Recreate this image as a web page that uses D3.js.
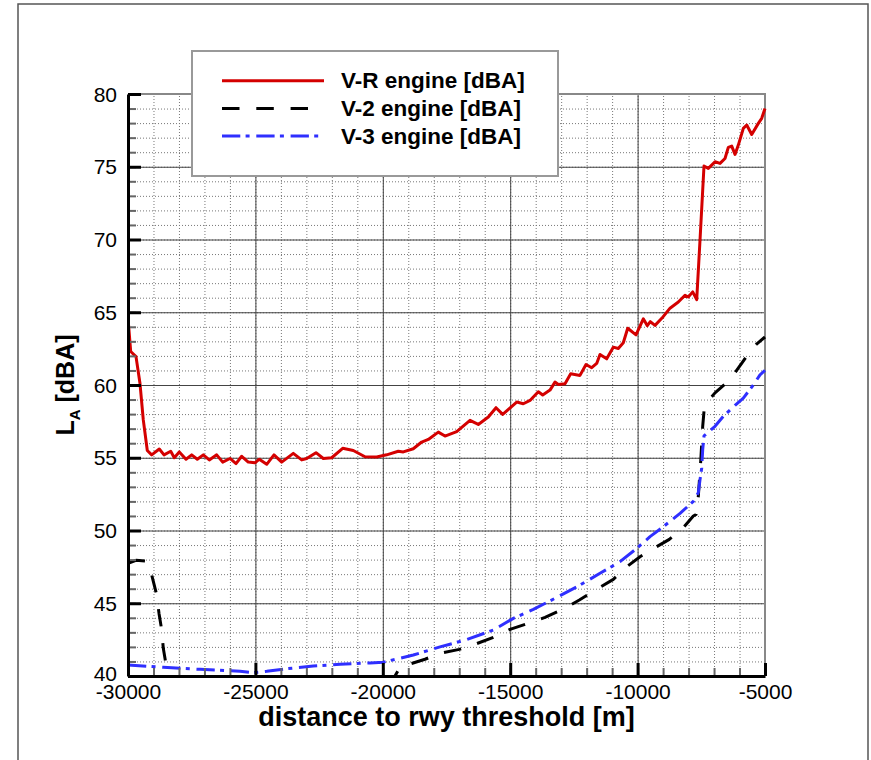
<!DOCTYPE html>
<html>
<head>
<meta charset="utf-8">
<script src="https://cdn.jsdelivr.net/npm/d3@7"></script>
<style>
  body { margin: 0; background: #fff; }
  svg { display: block; font-family: "Liberation Sans", Arial, sans-serif; }
</style>
</head>
<body>
<div id="chart"></div>
<script>
var xMajorTicks = [-30000, -25000, -20000, -15000, -10000, -5000];
var yMajorTicks = [40, 45, 50, 55, 60, 65, 70, 75, 80];

// [distance m, LA dBA]
var vrData = [[-30000,64.6],[-29894,62.3],[-29686,61.95],[-29529,60.1],[-29400,57.6],[-29243,55.5],
  [-29070,55.2],[-28772,55.6],[-28587,55.2],[-28324,55.45],[-28183,55.0],[-27987,55.4],[-27724,54.9],
  [-27500,55.2],[-27280,54.9],[-27045,55.2],[-26809,54.85],[-26519,55.2],[-26283,54.7],[-25997,54.95],
  [-25761,54.6],[-25538,55.1],[-25279,54.7],[-25016,54.65],[-24847,54.9],[-24557,54.55],[-24270,55.2],
  [-23968,54.7],[-23513,55.3],[-23183,54.85],[-22987,54.95],[-22622,55.35],[-22335,54.95],[-22006,55.0],
  [-21574,55.65],[-21158,55.5],[-20699,55.07],[-20240,55.05],[-19847,55.2],[-19392,55.45],[-19195,55.4],
  [-18803,55.62],[-18473,56.08],[-18214,56.26],[-17822,56.76],[-17559,56.49],[-17100,56.79],[-16578,57.57],
  [-16252,57.29],[-15859,57.8],[-15557,58.44],[-15294,57.98],[-14745,58.83],[-14486,58.71],[-14223,58.94],
  [-13897,59.54],[-13724,59.31],[-13438,59.65],[-13242,60.2],[-13112,60.04],[-12849,60.09],[-12626,60.77],
  [-12261,60.66],[-12025,61.41],[-11801,61.19],[-11605,61.48],[-11476,62.1],[-11213,61.8],[-10954,62.6],
  [-10757,62.51],[-10561,62.9],[-10388,63.9],[-10063,63.45],[-9776,64.55],[-9619,64.08],[-9501,64.35],
  [-9317,64.1],[-9042,64.6],[-8728,65.28],[-8402,65.7],[-8139,66.17],[-8010,66.05],[-7837,66.4],
  [-7680,65.87],[-7551,69.95],[-7394,75.05],[-7225,74.89],[-6962,75.34],[-6766,75.23],[-6570,75.57],
  [-6440,76.33],[-6306,76.42],[-6177,75.85],[-6047,76.49],[-5851,77.64],[-5717,77.87],[-5521,77.22],
  [-5262,77.98],[-5129,78.33],[-5000,79.0]];

var v2Data = [[-30000,47.75],[-29686,47.95],[-29333,47.9],[-29180,47.7],[-29031,46.67],[-28874,45.57],
  [-28783,44.3],[-28677,43.16],[-28615,41.9],[-28509,40.82],[-28400,39.9],[-28200,39.0],[-27500,38.2],
  [-20000,38.5],[-19700,39.3],[-19521,40.0],[-19324,40.6],[-19061,40.76],[-18343,41.15],[-17754,41.56],
  [-16997,41.83],[-16381,42.18],[-15662,42.66],[-15007,43.2],[-14289,43.62],[-13633,44.03],[-12939,44.58],
  [-12287,45.22],[-11604,45.96],[-10953,46.64],[-10427,47.51],[-9905,48.2],[-9249,48.89],[-8755,49.39],
  [-8229,50.15],[-7813,51.0],[-7708,51.1],[-7617,52.35],[-7523,54.76],[-7445,57.16],[-7394,58.2],
  [-7237,58.9],[-6962,59.46],[-6373,60.37],[-5812,61.75],[-5353,62.78],[-5000,63.3]];

var v3Data = [[-30000,40.76],[-29266,40.67],[-28615,40.6],[-27959,40.53],[-27174,40.46],[-26389,40.4],
  [-25604,40.33],[-25082,40.23],[-24556,40.32],[-23771,40.5],[-22727,40.68],[-21679,40.8],[-20502,40.9],
  [-19980,40.95],[-18802,41.44],[-17754,42.0],[-16707,42.5],[-15662,43.16],[-14877,43.96],[-14092,44.58],
  [-13174,45.4],[-12260,46.25],[-11475,47.06],[-10690,47.86],[-10034,48.77],[-9512,49.58],[-8990,50.26],
  [-8334,51.18],[-7813,52.0],[-7617,52.6],[-7550,53.5],[-7484,54.3],[-7445,55.56],[-7394,56.5],
  [-7264,56.7],[-6962,57.16],[-6636,57.85],[-6177,58.6],[-5851,59.1],[-5459,60.0],[-5196,60.7],[-5000,61.0]];

var series = [{name: "V-R engine [dBA]", data: vrData, color: "#d40000", dash: null},
              {name: "V-2 engine [dBA]", data: v2Data, color: "#000000", dash: "17.5,16.8"},
              {name: "V-3 engine [dBA]", data: v3Data, color: "#2f2fff", dash: "18.3,5.3,4,6.7"}];

var width = 871, height = 760;
var plotL = 128, plotR = 765, plotT = 94, plotB = 676;

var svg = d3.select("#chart").append("svg")
  .attr("width", width)
  .attr("height", height);

// outer frame
svg.append("rect")
  .attr("x", 18).attr("y", 4)
  .attr("width", 850).attr("height", 780)
  .attr("fill", "none")
  .attr("stroke", "#555")
  .attr("stroke-width", 1.5);

var x = d3.scaleLinear().domain([-30000, -5000]).range([plotL, plotR]);
var y = d3.scaleLinear().domain([40, 80]).range([plotB, plotT]);

// minor grid
var minorX = svg.append("g")
  .attr("transform", "translate(0," + plotB + ")")
  .call(d3.axisBottom(x).tickValues(x.ticks(25)).tickSize(-(plotB - plotT)).tickFormat(""));
var minorY = svg.append("g")
  .attr("transform", "translate(" + plotL + ",0)")
  .call(d3.axisLeft(y).tickValues(y.ticks(40)).tickSize(-(plotR - plotL)).tickFormat(""));
[minorX, minorY].forEach(function(g){
  g.select(".domain").remove();
  g.selectAll("line").attr("stroke", "#777").attr("stroke-dasharray", "1,2");
});

// major grid
var majorX = svg.append("g")
  .attr("transform", "translate(0," + plotB + ")")
  .call(d3.axisBottom(x).tickValues(xMajorTicks).tickSize(-(plotB - plotT)).tickFormat(""));
var majorY = svg.append("g")
  .attr("transform", "translate(" + plotL + ",0)")
  .call(d3.axisLeft(y).tickValues(yMajorTicks).tickSize(-(plotR - plotL)).tickFormat(""));
[majorX, majorY].forEach(function(g){
  g.select(".domain").remove();
  g.selectAll("line").attr("stroke", "#444");
});

// top and right border
svg.append("path")
  .attr("d", "M" + plotL + "," + plotT + "H" + plotR + "V" + plotB)
  .attr("fill", "none")
  .attr("stroke", "#888")
  .attr("stroke-width", 2);

// data
svg.append("clipPath").attr("id", "plotClip")
  .append("rect")
  .attr("x", plotL).attr("y", plotT - 2)
  .attr("width", plotR - plotL + 2).attr("height", plotB - plotT + 2);

var line = d3.line()
  .x(function(d){return x(d[0]);})
  .y(function(d){return y(d[1]);});

svg.append("g").attr("clip-path", "url(#plotClip)")
  .selectAll("path.series")
  .data(series).enter()
  .append("path")
    .attr("class", "series")
    .attr("d", function(d){return line(d.data);})
    .attr("fill", "none")
    .attr("stroke", function(d){return d.color;})
    .attr("stroke-width", 3)
    .attr("stroke-linejoin", "round")
    .attr("stroke-dasharray", function(d){return d.dash;});

// axes: minor ticks, major ticks, labels
var minorTickX = svg.append("g")
  .attr("transform", "translate(0," + plotB + ")")
  .call(d3.axisBottom(x).tickValues(x.ticks(25)).tickSizeInner(-8).tickSizeOuter(0).tickFormat(""));
var minorTickY = svg.append("g")
  .attr("transform", "translate(" + plotL + ",0)")
  .call(d3.axisLeft(y).tickValues(y.ticks(40)).tickSizeInner(-8).tickSizeOuter(0).tickFormat(""));
[minorTickX, minorTickY].forEach(function(g){
  g.select(".domain").remove();
  g.selectAll("line").attr("stroke", "#666").attr("stroke-width", 2);
});

var xAxis = svg.append("g")
  .attr("transform", "translate(0," + plotB + ")")
  .call(d3.axisBottom(x).tickValues(xMajorTicks).tickSizeInner(-13).tickSizeOuter(0).tickPadding(8)
    .tickFormat(function(d){return String(d);}));
var yAxis = svg.append("g")
  .attr("transform", "translate(" + plotL + ",0)")
  .call(d3.axisLeft(y).tickValues(yMajorTicks).tickSizeInner(-13).tickSizeOuter(0).tickPadding(11)
    .tickFormat(function(d){return String(d);}));
[xAxis, yAxis].forEach(function(g){
  g.select(".domain").attr("stroke", "#000").attr("stroke-width", 3);
  g.selectAll("line").attr("stroke", "#000").attr("stroke-width", 3);
  g.selectAll("text")
    .attr("fill", "#000")
    .style("font-size", "21px")
    .style("font-family", "'Liberation Sans', Arial, sans-serif");
});
yAxis.selectAll("text").attr("dy", function(d){return d == 40 ? "0.2em" : "0.34em";});

// axis titles
svg.append("text")
  .attr("x", (plotL + plotR) / 2)
  .attr("y", 726)
  .attr("text-anchor", "middle")
  .style("font-size", "27px")
  .style("font-weight", "bold")
  .text("distance to rwy threshold [m]");

var yTitle = svg.append("text")
  .attr("transform", "translate(74," + ((plotT + plotB) / 2) + ") rotate(-90)")
  .attr("text-anchor", "middle")
  .style("font-size", "25px")
  .style("font-weight", "bold");
yTitle.append("tspan").text("L");
yTitle.append("tspan").attr("dy", 6).style("font-size", "15px").text("A");
yTitle.append("tspan").attr("dy", -6).text(" [dBA]");

// legend
var legend = svg.append("g");
legend.append("rect")
  .attr("x", 192).attr("y", 51)
  .attr("width", 366).attr("height", 125)
  .attr("fill", "#fff")
  .attr("stroke", "#999")
  .attr("stroke-width", 2);

var items = legend.selectAll("g.item")
  .data(series).enter()
  .append("g")
    .attr("class", "item")
    .attr("transform", function(d, i){return "translate(0," + (80.7 + i * 27.7) + ")";});

items.append("line")
  .attr("x1", 222).attr("x2", function(d, i){return [324, 308, 319][i];})
  .attr("y1", 0).attr("y2", 0)
  .attr("stroke", function(d){return d.color;})
  .attr("stroke-width", 3)
  .attr("stroke-dasharray", function(d){return d.dash;});

items.append("text")
  .attr("x", 341)
  .attr("y", 7.5)
  .style("font-size", "22.5px")
  .style("font-weight", "bold")
  .text(function(d){return d.name;});
</script>
</body>
</html>
